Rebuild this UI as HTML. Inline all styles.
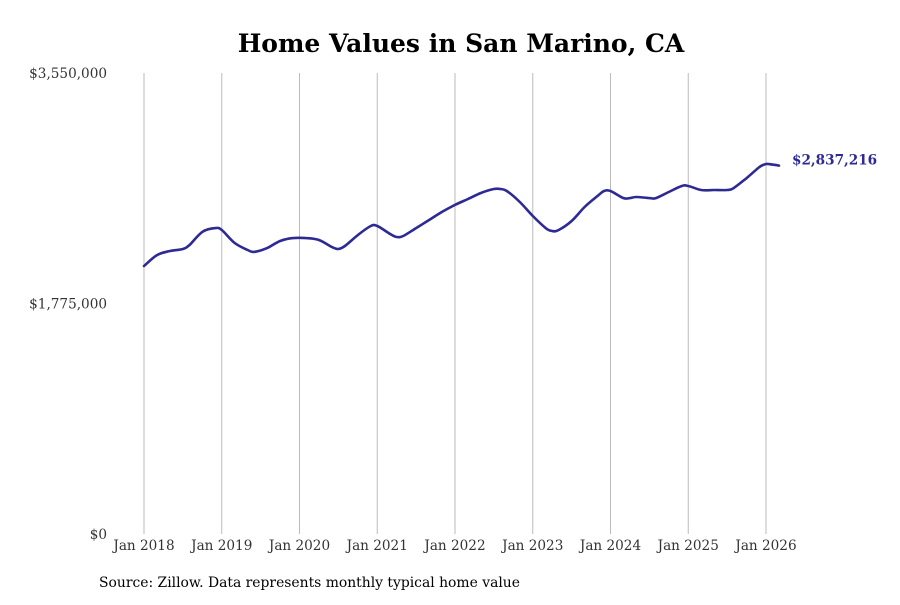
<!DOCTYPE html>
<html><head><meta charset="utf-8"><style>
body{margin:0;background:#fff;}
svg text{font-family:"DejaVu Serif",serif;}
</style></head><body>
<svg id="chart" width="900" height="600">
<text x="461" y="52" text-anchor="middle" font-size="25" font-weight="bold" fill="#000">Home Values in San Marino, CA</text>
<g id="grid"></g><g id="yaxis"></g><g id="xaxis"></g><g id="series"></g>
<text x="99" y="587" font-size="13.9" fill="#000">Source: Zillow. Data represents monthly typical home value</text>
</svg>
<script>
const months=[0,2,4,6,7,9,11,12,14,16,17,19,21,23,25,27,29,30,31,33,35,36,38,39,40,42,44,46,48,50,52,54,55,56,58,60,62,63,64,66,68,70,71,72,74,75,76,78,79,81,83,84,86,88,90,91,93,95,96,97,98];
const values=[2064000,2148000,2179000,2195000,2225000,2326000,2356000,2341000,2241000,2187000,2172000,2202000,2256000,2279000,2279000,2264000,2210000,2195000,2218000,2302000,2372000,2372000,2310000,2287000,2295000,2356000,2418000,2480000,2534000,2580000,2626000,2657000,2657000,2641000,2557000,2449000,2356000,2333000,2341000,2410000,2518000,2603000,2641000,2641000,2587000,2587000,2595000,2587000,2587000,2634000,2680000,2680000,2649000,2649000,2649000,2664000,2741000,2826000,2849000,2845000,2837216];
const yTicks=[0,1775000,3550000];
const yTickLabels=["$0","$1,775,000","$3,550,000"];
const xTickMonths=[0,12,24,36,48,60,72,84,96];
const xTickLabels=["Jan 2018","Jan 2019","Jan 2020","Jan 2021","Jan 2022","Jan 2023","Jan 2024","Jan 2025","Jan 2026"];
const lastLabel="$2,837,216";
const NS="http://www.w3.org/2000/svg";
const X=m=>144+m*(622/96);
const Y=v=>534-v/3550000*461;
function mk(tag,attrs,parent){const e=document.createElementNS(NS,tag);for(const k in attrs)e.setAttribute(k,attrs[k]);parent.appendChild(e);return e;}
const grid=document.getElementById('grid'),ya=document.getElementById('yaxis'),xa=document.getElementById('xaxis'),se=document.getElementById('series');
xTickMonths.forEach((m,i)=>{
 const l=mk('line',{x1:X(m),x2:X(m),y1:73,y2:534,stroke:'#bbb','stroke-width':1},grid);
 
 
 const t=mk('text',{x:X(m),y:550,'text-anchor':'middle','font-size':13.6,fill:'#333'},xa);
 t.textContent=xTickLabels[i];
 
 
});
yTicks.forEach((v,i)=>{
 const t=mk('text',{x:107,y:Y(v)+5,'text-anchor':'end','font-size':13.6,fill:'#333'},ya);
 t.textContent=yTickLabels[i];
 
 
});
const P=months.map((m,i)=>[X(m),Y(values[i])]);
let d='M'+P[0][0].toFixed(1)+','+P[0][1].toFixed(1);
for(let i=0;i<P.length-1;i++){
 const p0=P[Math.max(0,i-1)],p1=P[i],p2=P[i+1],p3=P[Math.min(P.length-1,i+2)];
 const c1=[p1[0]+(p2[0]-p0[0])/6,p1[1]+(p2[1]-p0[1])/6];
 const c2=[p2[0]-(p3[0]-p1[0])/6,p2[1]-(p3[1]-p1[1])/6];
 d+=` C${c1[0].toFixed(1)},${c1[1].toFixed(1)} ${c2[0].toFixed(1)},${c2[1].toFixed(1)} ${p2[0].toFixed(1)},${p2[1].toFixed(1)}`;
}
const pl=mk('path',{d:d,fill:'none',stroke:'#2e2a94','stroke-width':2.6,'stroke-linejoin':'round','stroke-linecap':'round'},se);


const lt=mk('text',{x:792,y:Y(values[values.length-1])-1,'font-size':13.6,'font-weight':'bold',fill:'#2e2a94'},se);
lt.textContent=lastLabel;


</script>
</body></html>
